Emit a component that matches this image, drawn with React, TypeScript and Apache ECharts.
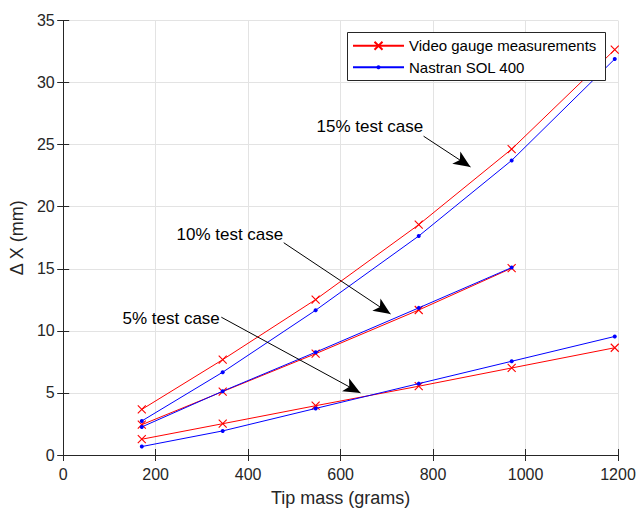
import React, { useEffect, useRef } from "react";
import * as echarts from "echarts";

const massX = [170, 345, 546, 769, 970, 1193];

const red15 = [3.67, 7.68, 12.52, 18.55, 24.64, 32.65];
const blue15 = [2.74, 6.67, 11.66, 17.64, 23.73, 31.9];
const red10 = [2.44, 5.11, 8.16, 11.68, 15.05];
const blue10 = [2.26, 5.14, 8.28, 11.85, 15.1];
const red5 = [1.27, 2.52, 3.97, 5.54, 7.01, 8.64];
const blue5 = [0.68, 1.94, 3.75, 5.75, 7.55, 9.55];

const xTicks = [0, 200, 400, 600, 800, 1000, 1200];
const yTicks = [0, 5, 10, 15, 20, 25, 30, 35];

const legendNames = ["Video gauge measurements", "Nastran SOL 400"];

// annotation arrows in data coordinates: [startX, startY, tipX, tipY]
const arrows15 = [779.5, 25.68, 881, 23.2];
const arrows10 = [477, 17.1, 708, 11.36];
const arrows5 = [342, 11.1, 643, 5.0];
const annotationTexts = ["15% test case", "10% test case", "5% test case"];

const FONT = "'Liberation Sans', Arial, Helvetica, sans-serif";
const AX = "#262626";
const XMARK = "path://M0 0L10 10M10 0L0 10";

function pairs(ys: number[]) {
  return ys.map((y, i) => [massX[i], y]);
}

export default function App() {
  const ref = useRef<HTMLDivElement>(null);
  useEffect(() => {
    if (!ref.current) return;
    const chart = echarts.init(ref.current, undefined, { renderer: "svg" });
    const redSeries = (ys: number[]) => ({
      type: "line",
      name: legendNames[0],
      data: pairs(ys),
      symbol: XMARK,
      symbolSize: 8,
      showSymbol: true,
      lineStyle: { color: "#ff0000", width: 1 },
      itemStyle: { color: "#ff0000", borderColor: "#ff0000", borderWidth: 1.1 },
      emphasis: { disabled: true },
      z: 3,
    });
    const blueSeries = (ys: number[]) => ({
      type: "line",
      name: legendNames[1],
      data: pairs(ys),
      symbol: "circle",
      symbolSize: 4,
      lineStyle: { color: "#0000ff", width: 1 },
      itemStyle: { color: "#0000ff", borderWidth: 0 },
      emphasis: { disabled: true },
      z: 4,
    });
    const arrowLine = (a: number[]) => [
      { coord: [a[0], a[1]] },
      { coord: [a[2], a[3]] },
    ];
    const axisCommon = {
      axisLine: { show: true, lineStyle: { color: AX, width: 1 } },
      axisTick: { show: true, inside: true, length: 6, lineStyle: { color: AX } },
    };
    const legendCommon = {
      orient: "vertical",
      left: 352,
      padding: 0,
      itemWidth: 51,
      itemTextGap: 4,
      selectedMode: false,
      z: 8,
      textStyle: { fontSize: 15, lineHeight: 16, color: "#000", fontFamily: FONT },
    };
    const option: any = {
      animation: false,
      backgroundColor: "#ffffff",
      textStyle: { fontFamily: FONT },
      grid: { left: 62.5, right: 21, top: 20.5, bottom: 54.5, containLabel: false },
      legend: [
        { ...legendCommon, data: [legendNames[0]], top: 37.7, itemHeight: 10 },
        { ...legendCommon, data: [legendNames[1]], top: 59.3, itemHeight: 5 },
      ],
      xAxis: [
        {
          type: "value",
          min: xTicks[0],
          max: xTicks[xTicks.length - 1],
          interval: 200,
          name: "Tip mass (grams)",
          nameLocation: "middle",
          nameGap: 34,
          nameTextStyle: { fontSize: 18, color: AX, fontFamily: FONT },
          ...axisCommon,
          axisLabel: {
            fontSize: 16,
            color: AX,
            margin: 11,
            fontFamily: FONT,
            formatter: (v: number) => String(v),
          },
          splitLine: { show: true, lineStyle: { color: "#e3e3e3", width: 1 } },
        },
        {
          type: "value",
          position: "top",
          min: xTicks[0],
          max: xTicks[xTicks.length - 1],
          interval: 200,
          ...axisCommon,
          axisLabel: { show: false },
          splitLine: { show: false },
        },
      ],
      yAxis: [
        {
          type: "value",
          min: yTicks[0],
          max: yTicks[yTicks.length - 1],
          interval: 5,
          name: "Δ X (mm)",
          nameLocation: "middle",
          nameGap: 34,
          nameTextStyle: { fontSize: 18, color: AX, fontFamily: FONT },
          ...axisCommon,
          axisLabel: {
            fontSize: 16,
            color: AX,
            margin: 8.5,
            fontFamily: FONT,
            formatter: (v: number) => String(v),
          },
          splitLine: { show: true, lineStyle: { color: "#e3e3e3", width: 1 } },
        },
        {
          type: "value",
          position: "right",
          min: yTicks[0],
          max: yTicks[yTicks.length - 1],
          interval: 5,
          ...axisCommon,
          axisLabel: { show: false },
          splitLine: { show: false },
        },
      ],
      series: [
        redSeries(red15),
        blueSeries(blue15),
        redSeries(red10),
        blueSeries(blue10),
        redSeries(red5),
        {
          ...blueSeries(blue5),
          markLine: {
            silent: true,
            symbol: ["none", "arrow"],
            symbolSize: [11, 17],
            label: { show: false },
            lineStyle: { color: "#000000", width: 1, type: "solid" },
            emphasis: { disabled: true },
            data: [arrowLine(arrows15), arrowLine(arrows10), arrowLine(arrows5)],
          },
        },
      ],
      graphic: [
        {
          type: "rect",
          left: 347,
          top: 32,
          shape: { width: 258, height: 48 },
          style: { fill: "#ffffff", stroke: AX, lineWidth: 1 },
          z: 7,
        },
        {
          type: "text",
          left: 316.5,
          top: 127 - 9.5,
          style: { text: annotationTexts[0], fontSize: 17, fill: "#000", fontFamily: FONT },
          z: 10,
        },
        {
          type: "text",
          left: 176.5,
          top: 235 - 9.5,
          style: { text: annotationTexts[1], fontSize: 17, fill: "#000", fontFamily: FONT },
          z: 10,
        },
        {
          type: "text",
          left: 122.5,
          top: 319 - 9.5,
          style: { text: annotationTexts[2], fontSize: 17, fill: "#000", fontFamily: FONT },
          z: 10,
        },
      ],
    };
    chart.setOption(option);
    return () => chart.dispose();
  }, []);
  return (
    <div
      ref={ref}
      style={{ position: "fixed", left: 0, top: 0, width: 639, height: 512 }}
    />
  );
}
